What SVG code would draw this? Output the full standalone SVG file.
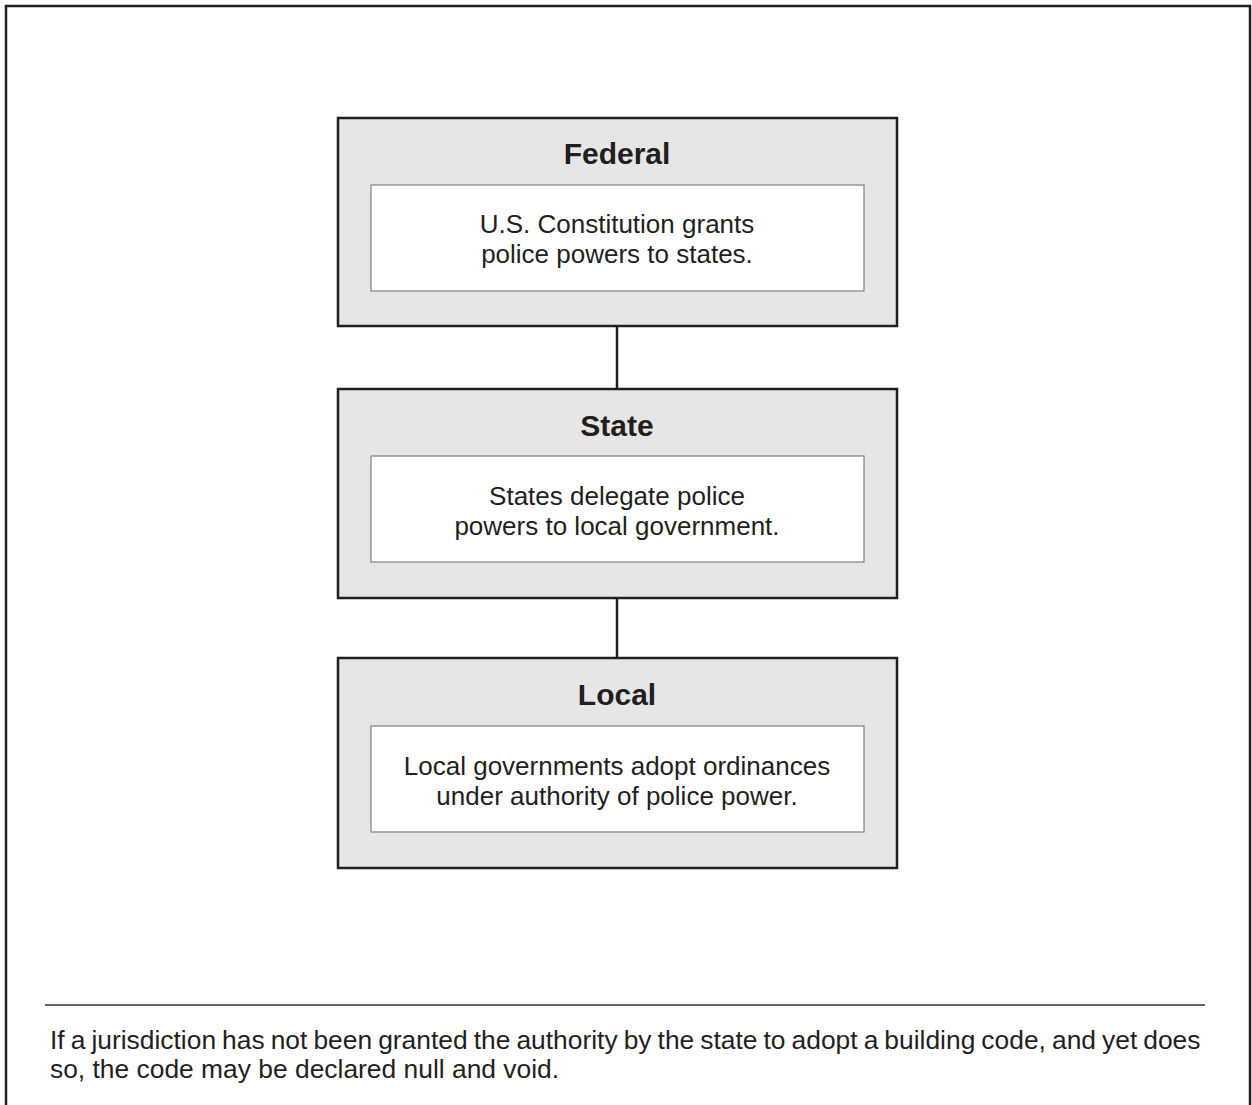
<svg xmlns="http://www.w3.org/2000/svg" width="1252" height="1105" viewBox="0 0 1252 1105">
<style>
.frame{fill:none;stroke:#231f20;stroke-width:2.5}
.outer{fill:#e6e6e6;stroke:#231f20;stroke-width:2.5}
.inner{fill:#fff;stroke:#808080;stroke-width:1.2}
.title{font-family:"Liberation Sans",Arial,sans-serif;font-weight:bold;font-size:30px;fill:#231f20;text-anchor:middle}
.body{font-family:"Liberation Sans",Arial,sans-serif;font-size:26px;fill:#231f20;text-anchor:middle}
.foot{font-family:"Liberation Sans",Arial,sans-serif;font-size:26.4px;fill:#231f20}
.conn{stroke:#231f20;stroke-width:2.5;fill:none}
</style>
<rect width="1252" height="1105" fill="#fff"/>
<path class="frame" d="M6,1110 V6 H1250 V1110"/>
<g id="connectors">
<line class="conn" x1="617" y1="326" x2="617" y2="389"/>
<line class="conn" x1="617" y1="598" x2="617" y2="658"/>
</g>
<g id="federal">
<rect class="outer" x="338" y="118" width="559" height="208"/>
<rect class="inner" x="371" y="185" width="493" height="106"/>
<text class="title" x="617" y="164">Federal</text>
<text class="body" x="617" y="233">U.S. Constitution grants</text>
<text class="body" x="617" y="263">police powers to states.</text>
</g>
<g id="state">
<rect class="outer" x="338" y="389" width="559" height="209"/>
<rect class="inner" x="371" y="456" width="493" height="106"/>
<text class="title" x="617" y="436">State</text>
<text class="body" x="617" y="505">States delegate police</text>
<text class="body" x="617" y="535">powers to local government.</text>
</g>
<g id="local">
<rect class="outer" x="338" y="658" width="559" height="210"/>
<rect class="inner" x="371" y="726" width="493" height="106"/>
<text class="title" x="617" y="705">Local</text>
<text class="body" x="617" y="775">Local governments adopt ordinances</text>
<text class="body" x="617" y="805">under authority of police power.</text>
</g>
<g id="footnote">
<line x1="45" y1="1005" x2="1205" y2="1005" stroke="#666" stroke-width="2"/>
<text class="foot" x="50" y="1049" word-spacing="-1.3">If a jurisdiction has not been granted the authority by the state to adopt a building code, and yet does</text>
<text class="foot" x="50" y="1078">so, the code may be declared null and void.</text>
</g>
</svg>
